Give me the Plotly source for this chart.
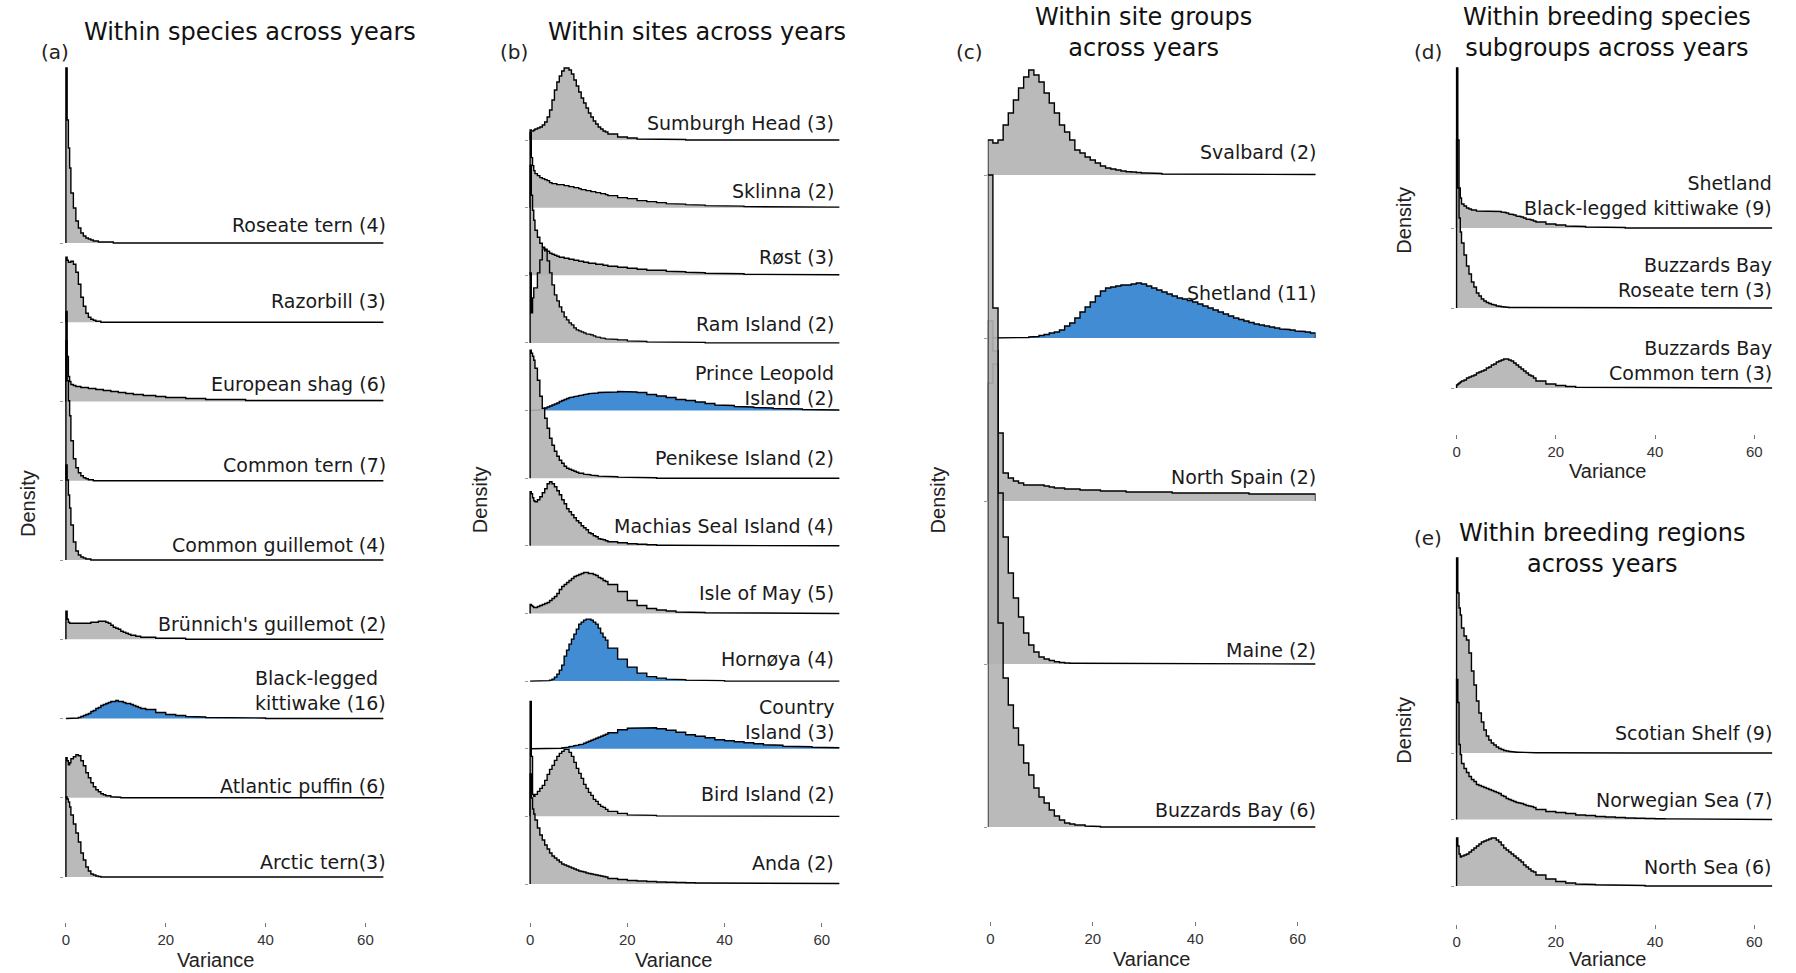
import plotly.graph_objects as go

W, H = 1796, 973

X_TICKS = [0, 20, 40, 60]

# bin edges (variance units)
EDGES_FINE = [0, 0.25, 0.5, 0.75, 1, 1.5, 2, 2.5, 3, 3.5, 4, 4.5, 5, 5.5, 6, 6.5, 7, 7.5, 8, 8.5,
              9, 9.5, 10, 10.5, 11, 11.5, 12, 12.5, 13, 13.5, 14, 14.5, 15, 15.5, 16,
              18, 20, 22, 24, 26, 28, 30, 32, 34, 36, 38, 40, 42, 44, 46, 48, 50, 52, 54, 56, 58, 60, 62, 64]
EDGES_C = [-0.5, 0.5, 1.5, 2.5, 3.5, 4.5, 5.5, 6.5, 7.5, 8.5, 9.5, 10.5, 11.5, 12.5, 13.5, 14.5, 15.5,
           16.5, 17.5, 18.5, 19.5, 20.5, 21.5, 22.5, 23.5, 24.5, 25.5, 26.5, 27.5, 28.5, 29.5, 30.5,
           31.5, 32.5, 33.5, 34.5, 35.5, 36.5, 37.5, 38.5, 39.5, 40.5, 41.5, 42.5, 43.5, 44.5, 45.5,
           46.5, 47.5, 48.5, 49.5, 50.5, 51.5, 52.5, 53.5, 54.5, 55.5, 56.5, 57.5, 58.5, 59.5, 60.5,
           61.5, 62.5, 63.5]

# ---------------- (a) Within species across years ----------------
A_NAMES = ["Roseate tern (4)", "Razorbill (3)", "European shag (6)", "Common tern (7)",
           "Common guillemot (4)", "Brünnich's guillemot (2)", "Black-legged<br>kittiwake (16)",
           "Atlantic puffin (6)", "Arctic tern(3)"]
A_BLUE = [0, 0, 0, 0, 0, 0, 1, 0, 0]
A_ROSEATE_TERN = [175, 123, 95, 75, 50, 35, 22, 15, 10, 7, 5, 4, 3, 2, 2, 1, 1, 1, 1, 1, 1, 0, 0, 0, 0, 0, 0, 0, 0, 0, 0, 0, 0, 0,
                  0, 0, 0, 0, 0, 0, 0, 0, 0, 0, 0, 0, 0, 0, 0, 0, 0, 0, 0, 0, 0, 0, 0, 0]
A_RAZORBILL = [65, 62, 60, 60, 61, 58, 50, 38, 25, 16, 9, 5, 3, 2, 1, 1, 0, 0, 0, 0, 0, 0, 0, 0, 0, 0, 0, 0, 0, 0, 0, 0, 0, 0,
               0, 0, 0, 0, 0, 0, 0, 0, 0, 0, 0, 0, 0, 0, 0, 0, 0, 0, 0, 0, 0, 0, 0, 0]
A_EUROPEAN_SHAG = [90, 45, 25, 20, 17, 16, 15, 15, 14, 14, 14, 13, 13, 13, 12, 12, 12, 11, 11, 11, 10, 10, 10, 9, 9, 9, 8, 8, 8, 7, 7, 7, 7, 6,
                   6, 5, 4, 4, 3, 3, 2, 2, 2, 2, 1, 1, 1, 1, 1, 1, 1, 1, 1, 1, 1, 1, 1, 1]
A_COMMON_TERN = [140, 100, 80, 65, 40, 22, 13, 8, 5, 3, 2, 1, 1, 0, 0, 0, 0, 0, 0, 0, 0, 0, 0, 0, 0, 0, 0, 0, 0, 0, 0, 0, 0, 0,
                 0, 0, 0, 0, 0, 0, 0, 0, 0, 0, 0, 0, 0, 0, 0, 0, 0, 0, 0, 0, 0, 0, 0, 0]
A_COMMON_GUILLEMOT = [95, 80, 65, 52, 35, 18, 9, 5, 3, 2, 1, 1, 0, 0, 0, 0, 0, 0, 0, 0, 0, 0, 0, 0, 0, 0, 0, 0, 0, 0, 0, 0, 0, 0,
                      0, 0, 0, 0, 0, 0, 0, 0, 0, 0, 0, 0, 0, 0, 0, 0, 0, 0, 0, 0, 0, 0, 0, 0]
A_BRUNNICHS_GUILLEMOT = [28, 20, 17, 16, 16, 16, 16, 16, 16, 16, 16, 16, 17, 17, 17, 18, 18, 18, 17, 16, 14, 12, 11, 10, 8, 7, 6, 5, 4, 4, 3, 3, 2, 2,
                         2, 1, 1, 1, 0, 0, 0, 0, 0, 0, 0, 0, 0, 0, 0, 0, 0, 0, 0, 0, 0, 0, 0, 0]
A_KITTIWAKE = [0, 0, 0, 0, 0, 0.3, 0.5, 1, 2, 3, 4, 5, 7, 8, 10, 11, 13, 14, 15, 16, 17, 17, 18, 17, 17, 16, 15, 15, 14, 13, 12, 11, 10, 10,
               9, 6, 4, 3, 2, 1.5, 1, 1, 1, 0.5, 0.5, 0.5, 0, 0, 0, 0, 0, 0, 0, 0, 0, 0, 0, 0]
A_ATLANTIC_PUFFIN = [40, 37, 33, 35, 39, 41, 43, 42, 37, 32, 25, 20, 15, 11, 8, 6, 4, 3, 2, 2, 1, 1, 1, 0.5, 0, 0, 0, 0, 0, 0, 0, 0, 0, 0,
                     0, 0, 0, 0, 0, 0, 0, 0, 0, 0, 0, 0, 0, 0, 0, 0, 0, 0, 0, 0, 0, 0, 0, 0]
A_ARCTIC_TERN = [80, 78, 75, 70, 62, 53, 44, 35, 24, 17, 10, 6, 3, 2, 1, 0.5, 0, 0, 0, 0, 0, 0, 0, 0, 0, 0, 0, 0, 0, 0, 0, 0, 0, 0,
                 0, 0, 0, 0, 0, 0, 0, 0, 0, 0, 0, 0, 0, 0, 0, 0, 0, 0, 0, 0, 0, 0, 0, 0]
A_DENS = [A_ROSEATE_TERN, A_RAZORBILL, A_EUROPEAN_SHAG, A_COMMON_TERN, A_COMMON_GUILLEMOT,
          A_BRUNNICHS_GUILLEMOT, A_KITTIWAKE, A_ATLANTIC_PUFFIN, A_ARCTIC_TERN]

# ---------------- (b) Within sites across years ----------------
B_NAMES = ["Sumburgh Head (3)", "Sklinna (2)", "Røst (3)", "Ram Island (2)", "Prince Leopold<br>Island (2)",
           "Penikese Island (2)", "Machias Seal Island (4)", "Isle of May (5)", "Hornøya (4)",
           "Country<br>Island (3)", "Bird Island (2)", "Anda (2)"]
B_BLUE = [0, 0, 0, 0, 1, 0, 0, 0, 1, 1, 0, 0]
B_SUMBURGH_HEAD = [10, 9, 9, 10, 11, 12, 13, 15, 18, 23, 30, 40, 50, 58, 64, 69, 72, 72, 70, 66, 60, 54, 48, 42, 37, 32, 27, 23, 19, 16, 13, 11, 9, 8,
                   6, 3, 2, 1, 1, 0.5, 0.5, 0.5, 0, 0, 0, 0, 0, 0, 0, 0, 0, 0, 0, 0, 0, 0, 0, 0]
B_SKLINNA = [75, 50, 42, 37, 34, 32, 30, 29, 28, 27, 25, 24, 24, 23, 23, 23, 22, 22, 21, 21, 20, 20, 19, 18, 18, 17, 17, 16, 16, 15, 15, 14, 14, 13,
             12, 10, 9, 7, 6, 5, 4, 3.5, 3, 2.5, 2, 2, 1.5, 1.5, 1, 1, 1, 1, 1, 0.5, 0.5, 0.5, 0.5, 0.5]
B_ROST = [110, 80, 65, 55, 45, 38, 32, 28, 26, 24, 22, 21, 20, 19, 18, 18, 17, 17, 16, 16, 15, 15, 14, 14, 13, 13, 12, 12, 12, 11, 11, 11, 10, 10,
          9, 8, 7, 6, 5, 5, 4, 3.5, 3, 2.5, 2, 2, 1.5, 1.5, 1, 1, 1, 1, 1, 1, 0.5, 0.5, 0.5, 0.5]
B_RAM_ISLAND = [70, 30, 45, 55, 55, 70, 83, 94, 92, 82, 70, 58, 48, 42, 36, 31, 26, 23, 20, 18, 15, 13, 12, 11, 10, 9, 8.5, 8, 7, 6, 5.5, 5, 4.5, 4,
                3.5, 3, 2, 1.5, 1, 1, 0.5, 0.5, 0.5, 0.5, 0, 0, 0, 0, 0, 0, 0, 0, 0, 0, 0, 0, 0, 0]
B_PRINCE_LEOPOLD = [0, 0, 0, 0, 0.3, 0.5, 1, 1.5, 2.5, 3.5, 4.5, 5.5, 6.5, 7.5, 9, 10, 11, 12, 13, 13.5, 14, 14.5, 15, 15.5, 16, 16.5, 17, 17, 17.5, 17.5, 18, 18, 18, 18.5,
                    18.5, 19, 18.5, 18, 16, 14.5, 13, 11, 10, 8.5, 7, 5.5, 5, 4, 3.5, 3, 2.5, 2, 1.5, 1.5, 1, 1, 1, 0.5]
B_PENIKESE = [128, 125, 122, 118, 110, 98, 82, 70, 60, 50, 40, 33, 27, 22, 18, 15, 12, 10, 9, 8, 7, 6, 5, 5, 4, 4, 3.5, 3, 3, 2.5, 2, 2, 2, 1.5,
              1.5, 1, 1, 0.5, 0.5, 0, 0, 0, 0, 0, 0, 0, 0, 0, 0, 0, 0, 0, 0, 0, 0, 0, 0, 0]
B_MACHIAS_SEAL = [54, 52, 48, 45, 44, 46, 49, 53, 57, 62, 64, 62, 59, 55, 51, 46, 42, 37, 34, 31, 28, 25, 23, 20, 18, 16, 13, 12, 10, 9, 7, 6.5, 6, 5,
                  4, 3, 2, 1.5, 1, 0.5, 0.5, 0, 0, 0, 0, 0, 0, 0, 0, 0, 0, 0, 0, 0, 0, 0, 0, 0]
B_ISLE_OF_MAY = [9, 8, 7, 6, 6, 7, 8, 9, 10, 11, 13, 15, 17, 20, 24, 27, 29, 31, 33, 35, 37, 38, 39, 40, 41, 41, 40, 40, 39, 38, 36, 35, 33, 32,
                 29, 22, 13, 8, 5, 3.5, 2.5, 1.5, 1, 1, 0.7, 0.5, 0.5, 0, 0, 0, 0, 0, 0, 0, 0, 0, 0, 0]
B_HORNOYA = [0, 0, 0, 0, 0, 0, 0, 0, 0.5, 0.5, 1, 2, 4, 7, 11, 16, 25, 31, 37, 42, 47, 52, 57, 59, 61, 62, 62, 61, 59, 57, 53, 48, 44, 41,
             33, 22, 14, 8, 4.5, 3, 2, 1.5, 1, 0.7, 0.5, 0.5, 0, 0, 0, 0, 0, 0, 0, 0, 0, 0, 0, 0]
B_COUNTRY_ISLAND = [0, 0, 0, 0, 0, 0, 0, 0, 0, 0, 0, 0, 0, 0, 0.5, 0.8, 1.1, 1.5, 2, 2.5, 3, 3.5, 4, 4.5, 5.5, 6.5, 7.5, 8.5, 9.5, 10.5, 11.5, 12.5, 13.5, 14.5,
                    16, 19, 20.5, 21, 21, 20, 18.5, 16.5, 14, 12.5, 11, 9, 8, 7, 6, 5, 4, 3.5, 2.5, 2, 2, 1.5, 1.5, 1]
B_BIRD_ISLAND = [115, 60, 22, 20, 22, 25, 28, 31, 36, 42, 47, 51, 56, 60, 63, 65, 67, 67, 64, 60, 54, 48, 43, 38, 32, 28, 24, 21, 17, 15, 12, 10, 9, 7,
                 5, 3, 1.5, 1, 1, 0.5, 0, 0, 0, 0, 0, 0, 0, 0, 0, 0, 0, 0, 0, 0, 0, 0, 0, 0]
B_ANDA = [110, 86, 75, 70, 64, 56, 49, 44, 39, 35, 31, 28, 26, 24, 22, 20, 19, 18, 17, 16, 15, 14, 13, 12.5, 12, 11, 10.5, 10, 9.5, 9, 8.5, 8, 7.5, 7,
          5.5, 4.5, 3.5, 3, 2.5, 2, 1.7, 1.5, 1.2, 1, 1, 0.8, 0.8, 0.7, 0.6, 0.5, 0.5, 0.5, 0.5, 0.5, 0.5, 0.5, 0.5, 0.5]
B_DENS = [B_SUMBURGH_HEAD, B_SKLINNA, B_ROST, B_RAM_ISLAND, B_PRINCE_LEOPOLD, B_PENIKESE, B_MACHIAS_SEAL,
          B_ISLE_OF_MAY, B_HORNOYA, B_COUNTRY_ISLAND, B_BIRD_ISLAND, B_ANDA]

# ---------------- (c) Within site groups across years (unit bins) ----------------
C_NAMES = ["Svalbard (2)", "Shetland (11)", "North Spain (2)", "Maine (2)", "Buzzards Bay (6)"]
C_BLUE = [0, 1, 0, 0, 0]
C_SVALBARD = [35, 32, 35, 50, 62, 75, 87, 98, 105, 100, 93, 82, 72, 62, 50, 43, 35, 25, 22, 18, 15, 12, 9, 7, 6, 5, 4, 3.3, 3, 2.5,
              2, 2, 1.5, 1.5, 1, 1, 1, 1, 1, 1, 1, 0.5, 0.5, 0.5, 0.5, 0.5, 0.5, 0.5, 0.5, 0.5, 0.5, 0.5, 0.5, 0.5, 0.5, 0.5, 0.5, 0.5, 0.5, 0.5,
              0.5, 0.5, 0.5, 0.5]
C_SHETLAND = [0, 0, 0, 0, 0, 0, 0.3, 0.5, 1, 1.5, 2.5, 3.5, 5, 6, 8, 12, 15, 20, 26, 31, 36, 42, 47, 50, 51, 52, 53, 53, 54, 55,
              54, 52, 50, 48, 46, 44, 42, 40, 39, 37.5, 36, 34, 32, 30, 28, 26, 24, 22, 20, 18.5, 17, 15.5, 14, 13, 12, 11, 10, 9, 8.5, 8,
              7, 6.5, 6, 5]
C_NORTH_SPAIN = [180, 150, 68, 28, 23, 20, 18, 16, 16, 16, 16, 15, 14, 13, 13, 12, 12, 12, 11, 11, 11, 11, 10, 10, 10, 10, 10, 9, 9, 9,
                 9, 9, 9, 9, 9, 9, 8, 8, 8, 8, 8, 8, 8, 8, 8, 8, 8, 8, 8, 8, 8, 7, 7, 7, 7, 7, 7, 7, 7, 7,
                 7, 7, 7, 7]
C_MAINE = [281, 300, 171, 127, 91, 66, 47, 31, 19, 12, 7, 5, 3.5, 2.3, 1.5, 1, 0.7, 0.7, 0.5, 0.3, 0, 0, 0, 0, 0, 0, 0, 0, 0, 0,
           0, 0, 0, 0, 0, 0, 0, 0, 0, 0, 0, 0, 0, 0, 0, 0, 0, 0, 0, 0, 0, 0, 0, 0, 0, 0, 0, 0, 0, 0,
           0, 0, 0, 0]
C_BUZZARDS_BAY = [652, 519, 204, 149, 122, 99, 82, 64, 52, 39, 30, 24, 17, 11, 7, 4, 3, 2, 2, 1, 1, 0.5, 0, 0, 0, 0, 0, 0, 0, 0,
                  0, 0, 0, 0, 0, 0, 0, 0, 0, 0, 0, 0, 0, 0, 0, 0, 0, 0, 0, 0, 0, 0, 0, 0, 0, 0, 0, 0, 0, 0,
                  0, 0, 0, 0]
C_DENS = [C_SVALBARD, C_SHETLAND, C_NORTH_SPAIN, C_MAINE, C_BUZZARDS_BAY]

# ---------------- (d) Within breeding species subgroups ----------------
D_NAMES = ["Shetland<br>Black-legged kittiwake (9)", "Buzzards Bay<br>Roseate tern (3)", "Buzzards Bay<br>Common tern (3)"]
D_BLUE = [0, 0, 0]
D_SHETLAND_KITTIWAKE = [160, 88, 40, 30, 24, 22, 20, 19, 18, 18, 17, 17, 16.5, 16.5, 16.5, 17, 17, 17, 17, 16.5, 16, 15.5, 15, 14, 13.5, 13, 12, 11.5, 11, 10, 9, 8.5, 8, 7,
                        6, 4, 3, 2, 1.5, 1, 0.5, 0.5, 0.5, 0, 0, 0, 0, 0, 0, 0, 0, 0, 0, 0, 0, 0, 0, 0]
D_BUZZARDS_ROSEATE = [168, 120, 90, 76, 65, 53, 42, 34, 26, 21, 15, 12, 9, 7, 5.5, 4.5, 3.5, 3, 2, 1.7, 1.2, 1, 0.7, 0.5, 0.5, 0, 0, 0, 0, 0, 0, 0, 0, 0,
                      0, 0, 0, 0, 0, 0, 0, 0, 0, 0, 0, 0, 0, 0, 0, 0, 0, 0, 0, 0, 0, 0, 0, 0]
D_BUZZARDS_COMMON = [3, 4, 5, 6, 7, 8, 10, 11, 12, 13, 15, 16, 17, 18, 20, 21, 23, 24, 26, 27, 28, 29, 29, 28, 27, 25, 23, 21, 19, 17, 15, 13, 12, 10,
                     7, 4, 2.5, 1.5, 0.7, 0.5, 0, 0, 0, 0, 0, 0, 0, 0, 0, 0, 0, 0, 0, 0, 0, 0, 0, 0]
D_DENS = [D_SHETLAND_KITTIWAKE, D_BUZZARDS_ROSEATE, D_BUZZARDS_COMMON]

# ---------------- (e) Within breeding regions ----------------
E_NAMES = ["Scotian Shelf (9)", "Norwegian Sea (7)", "North Sea (6)"]
E_BLUE = [0, 0, 0]
E_SCOTIAN_SHELF = [195, 160, 145, 138, 125, 117, 113, 100, 82, 68, 52, 40, 31, 23, 17, 13, 10, 8, 6, 4.5, 3.5, 2.5, 2, 1.5, 1.2, 1, 0.8, 0.7, 0.5, 0.5, 0.5, 0.3, 0.3, 0.3,
                   0.3, 0.2, 0.2, 0, 0, 0, 0, 0, 0, 0, 0, 0, 0, 0, 0, 0, 0, 0, 0, 0, 0, 0, 0, 0]
E_NORWEGIAN_SEA = [140, 117, 75, 65, 56, 51, 47, 43, 40, 38, 35, 34, 33, 32, 31, 30, 29, 28, 27, 26, 24, 23, 21, 20, 19, 18, 17, 16.5, 16, 15, 14, 13.5, 13, 12,
                   10, 8, 7, 6, 4.5, 4, 3, 2.5, 2, 1.5, 1.2, 1, 0.8, 0.6, 0.5, 0.5, 0.4, 0.3, 0.3, 0.3, 0.3, 0.3, 0.3, 0.3]
E_NORTH_SEA = [48, 40, 32, 29, 30, 31, 32, 34, 36, 38, 40, 42, 44, 45, 46, 47, 48, 48, 46, 44, 41, 38, 36, 34, 32, 30, 28, 26, 24, 21, 19, 17, 15, 14,
               11, 7, 4.5, 3, 2, 1.5, 1.2, 1, 0.7, 0.5, 0.5, 0, 0, 0, 0, 0, 0, 0, 0, 0, 0, 0, 0, 0]
E_DENS = [E_SCOTIAN_SHELF, E_NORWEGIAN_SEA, E_NORTH_SEA]

# ---------------- layout (pixel geometry of each panel) ----------------
PANELS = [
    dict(names=A_NAMES, dens=A_DENS, blue=A_BLUE, edges=EDGES_FINE,
         x0=63, ppu=5.0, base_top=243, base_bot=877, dom_top=55, dom_bot=922, xmin=-0.3, xmax=63.6,
         label_right=386, label_off=[18, 21, 17, 16, 15, 15, 28.5, 12, 15],
         label_align=["right"] * 6 + ["left"] + ["right"] * 2),
    dict(names=B_NAMES, dens=B_DENS, blue=B_BLUE, edges=EDGES_FINE,
         x0=528, ppu=4.87, base_top=140, base_bot=884, dom_top=55, dom_bot=922, xmin=-0.3, xmax=63.6,
         label_right=834, label_off=[17, 17, 18, 19, 24.7, 20, 20, 20, 22, 29.5, 22, 21],
         label_align=["right"] * 12),
    dict(names=C_NAMES, dens=C_DENS, blue=C_BLUE, edges=EDGES_C,
         x0=989, ppu=5.13, base_top=175, base_bot=827, dom_top=55, dom_bot=921, xmin=-0.5, xmax=63.5,
         label_right=1317, label_off=[23, 45, 24, 14, 17],
         label_align=["right"] * 5),
    dict(names=D_NAMES, dens=D_DENS, blue=D_BLUE, edges=EDGES_FINE,
         x0=1456, ppu=4.97, base_top=228, base_bot=388, dom_top=55, dom_bot=434, xmin=-0.3, xmax=63.6,
         label_right=1774, label_off=[33, 30.5, 27.5],
         label_align=["right"] * 3),
    dict(names=E_NAMES, dens=E_DENS, blue=E_BLUE, edges=EDGES_FINE,
         x0=1456, ppu=4.97, base_top=753, base_bot=886, dom_top=545, dom_bot=924, xmin=-0.3, xmax=63.6,
         label_right=1774, label_off=[20, 20, 19],
         label_align=["right"] * 3),
]

TITLES = [
    ("Within species across years", 247, 32),
    ("Within sites across years", 695, 32),
    ("Within site groups<br>across years", 1142, 32),
    ("Within breeding species<br>subgroups across years", 1607, 32),
    ("Within breeding regions<br>across years", 1602, 548),
]
LETTERS = [("(a)", 52, 52), ("(b)", 512, 52), ("(c)", 968, 52), ("(d)", 1427, 52), ("(e)", 1427, 538)]
DENSITY_POS = [(25, 503), (478, 500), (937, 500), (1403, 220), (1403, 730)]
VARIANCE_POS = [(213, 960), (672, 960), (1150, 959), (1607, 471), (1607, 959)]

GREY_FILL = "rgba(179,179,179,0.9)"
BLUE_FILL = "rgba(45,127,207,0.9)"
TEXT_FONT = "DejaVu Sans, Verdana, sans-serif"
AXIS_FONT = "Liberation Sans, Arial, sans-serif"


def px_x(px):
    return px / W


def px_y(py):
    return 1 - py / H


fig = go.Figure()
layout = {}
annotations = []

for p_i, p in enumerate(PANELS):
    s = "" if p_i == 0 else str(p_i + 1)
    xa, ya = "x" + s, "y" + s
    n = len(p["names"])
    spacing = (p["base_bot"] - p["base_top"]) / (n - 1)
    edges = p["edges"]

    for j in range(n):
        k = n - 1 - j
        dens = p["dens"][j]
        assert len(dens) == len(edges) - 1, (p_i, j, len(dens))
        xs = [edges[0]]
        ys = [k]
        for i, v in enumerate(dens):
            yv = k + v / spacing
            xs += [edges[i], edges[i + 1]]
            ys += [yv, yv]
        xs.append(edges[-1])
        ys.append(k)
        fill = BLUE_FILL if p["blue"][j] else GREY_FILL
        fig.add_trace(go.Scatter(x=xs, y=ys, mode="lines", fill="toself", fillcolor=fill,
                                 line=dict(width=0), hoverinfo="skip", showlegend=False,
                                 xaxis=xa, yaxis=ya))
        fig.add_trace(go.Scatter(x=xs, y=ys, mode="lines", line=dict(color="black", width=1.4),
                                 hoverinfo="skip", showlegend=False, xaxis=xa, yaxis=ya))

        base_px = p["base_bot"] - k * spacing
        annotations.append(dict(text=p["names"][j], xref="paper", yref="paper",
                                x=px_x(p["label_right"]), y=px_y(base_px - p["label_off"][j]),
                                xanchor="right", yanchor="middle", align=p["label_align"][j],
                                showarrow=False,
                                font=dict(family=TEXT_FONT, size=19, color="#1a1a1a")))

    x_dom = [px_x(p["x0"] + p["ppu"] * p["xmin"]), px_x(p["x0"] + p["ppu"] * p["xmax"])]
    y_dom = [px_y(p["dom_bot"]), px_y(p["dom_top"])]
    y_rng = [(p["base_bot"] - p["dom_bot"]) / spacing, (p["base_bot"] - p["dom_top"]) / spacing]
    layout["xaxis" + s] = dict(domain=x_dom, range=[p["xmin"], p["xmax"]], anchor=ya,
                               tickvals=X_TICKS, ticktext=[str(t) for t in X_TICKS],
                               ticks="outside", ticklen=4, tickwidth=1, tickcolor="#777",
                               showgrid=False, zeroline=False, showline=False,
                               tickfont=dict(family=AXIS_FONT, size=15, color="#333"))
    layout["yaxis" + s] = dict(domain=y_dom, range=y_rng, anchor=xa,
                               tickvals=list(range(n)), ticks="outside", ticklen=3, tickwidth=1,
                               tickcolor="#999", showticklabels=False,
                               showgrid=False, zeroline=False, showline=False)

for text, x, y in TITLES:
    annotations.append(dict(text=text, xref="paper", yref="paper", x=px_x(x), y=px_y(y),
                            xanchor="center", yanchor="middle",
                            align="center", showarrow=False,
                            font=dict(family=TEXT_FONT, size=24, color="#111")))
for text, x, y in LETTERS:
    annotations.append(dict(text=text, xref="paper", yref="paper", x=px_x(x), y=px_y(y),
                            xanchor="center", yanchor="middle", showarrow=False,
                            font=dict(family=TEXT_FONT, size=20, color="#222")))
for x, y in DENSITY_POS:
    annotations.append(dict(text="Density", xref="paper", yref="paper", x=px_x(x), y=px_y(y),
                            xanchor="center", yanchor="middle", textangle=-90, showarrow=False,
                            font=dict(family=AXIS_FONT, size=20, color="#222")))
for x, y in VARIANCE_POS:
    annotations.append(dict(text="Variance", xref="paper", yref="paper", x=px_x(x), y=px_y(y),
                            xanchor="center", yanchor="middle", showarrow=False,
                            font=dict(family=AXIS_FONT, size=20, color="#222")))

fig.update_layout(**layout)
fig.update_layout(width=W, height=H, margin=dict(l=0, r=0, t=0, b=0),
                  paper_bgcolor="white", plot_bgcolor="white", showlegend=False,
                  annotations=annotations)

fig.write_html("out.html")
